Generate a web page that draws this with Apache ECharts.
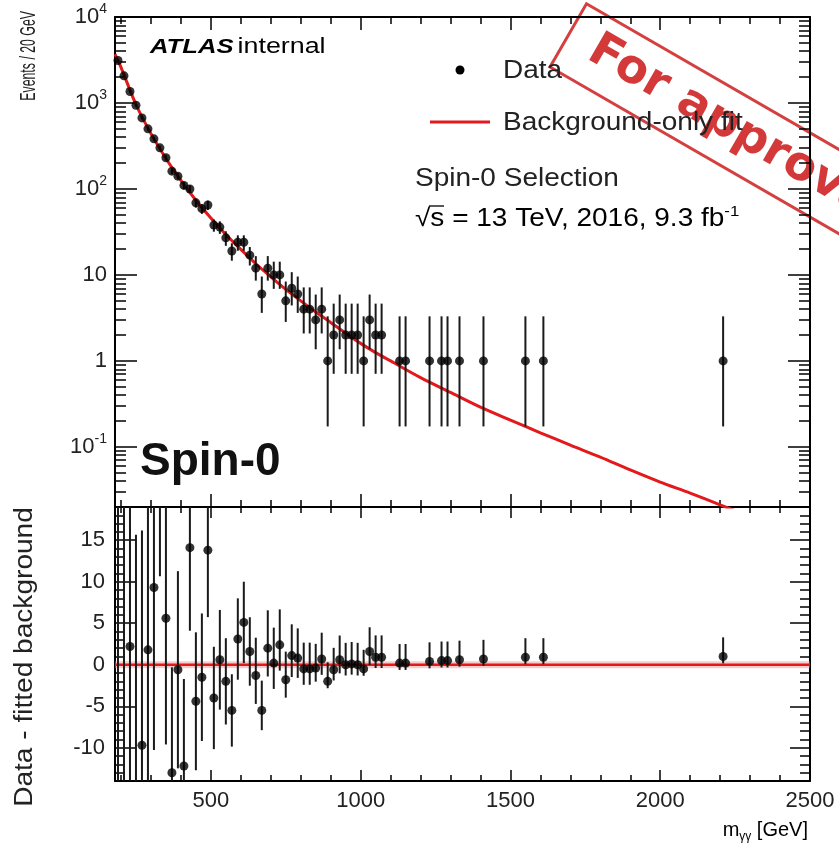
<!DOCTYPE html>
<html>
<head>
<meta charset="utf-8">
<script src="https://cdn.jsdelivr.net/npm/echarts@6/dist/echarts.min.js"></script>
<style>html,body{margin:0;padding:0;background:#fff}#c{width:839px;height:845px}</style>
</head>
<body>
<div id="c"></div>
<script>
// ---------------- data ----------------
const massBins = [190,210,230,250,270,290,310,330,350,370,390,410,430,450,470,490,510,530,550,570,590,610,630,650,670,690,710,730,750,770,790,810,830,850,870,890,910,930,950,970,990,1010,1030,1050,1070,1130,1150,1230,1270,1290,1330,1410,1550,1610,2210];
const counts = [3120,2070,1360,940,670,500,383,301,231,161,141,110,100,69,59,65,38,36,27,19,24,24,17,12,6,12,10,10,5,7,6,4,4,3,4,1,2,3,2,2,2,1,3,2,2,1,1,1,1,1,1,1,1,1,1];
const residuals = [-20,25,2.2,-15,-9.7,1.8,9.3,28,5.6,-13.0,-0.6,-12.2,14.1,-4.4,-1.5,13.8,-4.0,0.6,-2.0,-5.5,3.1,5.1,1.6,-1.3,-5.5,2.0,0.2,2.4,-1.8,1.1,0.8,-0.5,-0.5,-0.4,0.7,-2.0,-0.6,0.6,0.0,0.1,0.0,-0.5,1.6,0.9,0.9,0.2,0.2,0.4,0.5,0.5,0.6,0.7,0.9,0.9,1.0];
const fitMass = [180,200,250,300,350,400,450,500,550,600,650,700,750,800,850,900,950,1000,1050,1100,1200,1300,1400,1500,1600,1700,1800,1900,2000,2100,2200,2300,2500];
const fitValues = [3700,2600,960,440,226,126,74,46,29.5,19.8,13.5,9.5,6.8,5.0,3.7,2.8,2.1,1.6,1.25,1.0,0.64,0.43,0.29,0.205,0.146,0.105,0.076,0.054,0.039,0.029,0.0212,0.0155,0.0085];
// 68% Poisson (Garwood) interval for N = 1..12
const poissonLow  = [0.173,0.708,1.367,2.086,2.840,3.620,4.419,5.232,6.057,6.891,7.734,8.585];
const poissonHigh = [3.300,4.638,5.918,7.163,8.382,9.584,10.77,11.95,13.11,14.27,15.42,16.56];
// tick labels
const xTickValues = [500,1000,1500,2000,2500];
const xTickLabels = ['500','1000','1500','2000','2500'];
const yTopTickValues = [0.1,1,10,100,1000,10000];
const yTopTickLabels = [['10','-1'],['1',''],['10',''],['10','2'],['10','3'],['10','4']];
const yBotTickValues = [-10,-5,0,5,10,15];
const yBotTickLabels = ['-10','-5','0','5','10','15'];

// ---------------- helpers ----------------
const FONT = "'Liberation Sans', Arial, Helvetica, sans-serif";
const X_MIN = 180, X_MAX = 2500;
const TOP_MIN = 0.02, TOP_MAX = 10000;
const BOT_MIN = -14, BOT_MAX = 19;

const xMinor = [];
for (let v = 200; v <= 2400; v += 100) if (v % 500 !== 0) xMinor.push(v);
const yTopMinor = [];
for (let d = -2; d <= 3; d++) for (let k = 2; k <= 9; k++) {
  const v = +(k * Math.pow(10, d)).toPrecision(3);
  if (v >= TOP_MIN && v <= TOP_MAX) yTopMinor.push(v);
}
const yBotMinor = [];
for (let v = -14; v <= 19; v++) if (v % 5 !== 0) yBotMinor.push(v);

function errLo(n) { return n <= 12 ? poissonLow[n - 1] : n - Math.sqrt(n); }
function errHi(n) { return n <= 12 ? poissonHigh[n - 1] : n + Math.sqrt(n); }

const topPoints = massBins.map((m, i) => [m, counts[i]]);
const topErr = massBins.map((m, i) => [m, errLo(counts[i]), errHi(counts[i])]);
const botPoints = massBins.map((m, i) => [m, residuals[i]]);
const botErr = massBins.map((m, i) => [m, residuals[i] - (counts[i] - errLo(counts[i])), residuals[i] + (errHi(counts[i]) - counts[i])]);
const fitLine = fitMass.map((m, i) => [m, fitValues[i]]);

function mkX(grid, pos, ticks, len, withLabels, lineShow) {
  return {
    type: 'value', gridIndex: grid, position: pos, min: X_MIN, max: X_MAX,
    axisLine: { show: lineShow, onZero: false, lineStyle: { color: '#000', width: 2 } },
    axisTick: { show: true, inside: true, length: len, customValues: ticks, lineStyle: { color: '#000', width: 1.5 } },
    axisLabel: withLabels ? {
      show: true, customValues: ticks, margin: 9, color: '#222', fontFamily: FONT, fontSize: 22,
      formatter: v => xTickLabels[xTickValues.indexOf(Math.round(v))] || ''
    } : { show: false },
    splitLine: { show: false }
  };
}
function mkYTop(pos, ticks, len, withLabels, lineShow) {
  return {
    type: 'log', logBase: 10, gridIndex: 0, position: pos, min: TOP_MIN, max: TOP_MAX,
    axisLine: { show: lineShow, lineStyle: { color: '#000', width: 2 } },
    axisTick: { show: true, inside: true, length: len, customValues: ticks, lineStyle: { color: '#000', width: 1.5 } },
    axisLabel: withLabels ? {
      show: true, customValues: ticks, margin: 8,
      formatter: v => {
        const idx = Math.round(Math.log10(v)) + 1;
        const lab = yTopTickLabels[idx];
        if (!lab) return '';
        return lab[1] ? '{b|' + lab[0] + '}{s|' + lab[1] + '}' : '{b|' + lab[0] + '}';
      },
      rich: {
        b: { fontFamily: FONT, fontSize: 22, color: '#222', lineHeight: 30 },
        s: { fontFamily: FONT, fontSize: 14, color: '#222', lineHeight: 16, verticalAlign: 'top' }
      }
    } : { show: false },
    splitLine: { show: false }
  };
}
function mkYBot(pos, ticks, len, withLabels, lineShow) {
  return {
    type: 'value', gridIndex: 1, position: pos, min: BOT_MIN, max: BOT_MAX,
    axisLine: { show: lineShow, lineStyle: { color: '#000', width: 2 } },
    axisTick: { show: true, inside: true, length: len, customValues: ticks, lineStyle: { color: '#000', width: 1.5 } },
    axisLabel: withLabels ? {
      show: true, customValues: ticks, margin: 10, color: '#222', fontFamily: FONT, fontSize: 22,
      formatter: v => yBotTickLabels[yBotTickValues.indexOf(Math.round(v))] || ''
    } : { show: false },
    splitLine: { show: false }
  };
}

function errRender(params, api) {
  const x = api.value(0), lo = api.value(1), hi = api.value(2);
  const p1 = api.coord([x, lo]);
  const p2 = api.coord([x, hi]);
  return {
    type: 'line',
    shape: { x1: p1[0], y1: p1[1], x2: p2[0], y2: p2[1] },
    style: { stroke: '#1a1a1a', lineWidth: 2 }
  };
}

const chart = echarts.init(document.getElementById('c'), null, { renderer: 'canvas' });
const DEG = Math.PI / 180;

const option = {
  animation: false,
  backgroundColor: '#fff',
  grid: [
    { left: 115, right: 29, top: 17, height: 490 },
    { left: 115, right: 29, top: 507, height: 274 }
  ],
  xAxis: [
    mkX(0, 'bottom', xTickValues, 13, false, true),
    mkX(0, 'bottom', xMinor, 7, false, false),
    mkX(0, 'top', xTickValues, 13, false, true),
    mkX(0, 'top', xMinor, 7, false, false),
    mkX(1, 'bottom', xTickValues, 11, true, true),
    mkX(1, 'bottom', xMinor, 6, false, false),
    mkX(1, 'top', xTickValues, 11, false, true),
    mkX(1, 'top', xMinor, 6, false, false)
  ],
  yAxis: [
    mkYTop('left', yTopTickValues, 22, true, true),
    mkYTop('left', yTopMinor, 11, false, false),
    mkYTop('right', yTopTickValues, 22, false, true),
    mkYTop('right', yTopMinor, 11, false, false),
    mkYBot('left', yBotTickValues, 20, true, true),
    mkYBot('left', yBotMinor, 10, false, false),
    mkYBot('right', yBotTickValues, 20, false, true),
    mkYBot('right', yBotMinor, 10, false, false)
  ],
  series: [
    {
      name: 'Background-only fit', type: 'line', xAxisIndex: 0, yAxisIndex: 0,
      data: fitLine, smooth: 0.3, showSymbol: false, clip: true, z: 3,
      lineStyle: { color: '#e3191c', width: 3 }
    },
    {
      name: 'Data errors', type: 'custom', xAxisIndex: 0, yAxisIndex: 0,
      data: topErr, renderItem: errRender, clip: true, z: 4,
      encode: { x: 0, y: [1, 2] }
    },
    {
      name: 'Data', type: 'scatter', xAxisIndex: 0, yAxisIndex: 0,
      data: topPoints, symbol: 'circle', symbolSize: 9, clip: true, z: 5,
      itemStyle: { color: '#000' }
    },
    {
      name: 'zero band', type: 'line', xAxisIndex: 4, yAxisIndex: 4,
      data: [[X_MIN, 0], [X_MAX, 0]], showSymbol: false, z: 2,
      lineStyle: { color: '#f08080', width: 7, opacity: 0.4 }
    },
    {
      name: 'zero', type: 'line', xAxisIndex: 4, yAxisIndex: 4,
      data: [[X_MIN, 0], [X_MAX, 0]], showSymbol: false, z: 3,
      lineStyle: { color: '#e3191c', width: 2.5 }
    },
    {
      name: 'Residual errors', type: 'custom', xAxisIndex: 4, yAxisIndex: 4,
      data: botErr, renderItem: errRender, clip: true, z: 4,
      encode: { x: 0, y: [1, 2] }
    },
    {
      name: 'Residuals', type: 'scatter', xAxisIndex: 4, yAxisIndex: 4,
      data: botPoints, symbol: 'circle', symbolSize: 9, clip: true, z: 5,
      itemStyle: { color: '#000' }
    }
  ],
  graphic: [
    // y axis titles
    { type: 'text', x: 29, y: 11, rotation: Math.PI / 2, scaleX: 0.56, z: 10,
      style: { text: 'Events / 20 GeV', fontFamily: FONT, fontSize: 22, fill: '#222', textAlign: 'right', textVerticalAlign: 'middle' } },
    { type: 'text', x: 25, y: 657, rotation: Math.PI / 2, scaleX: 1.08, z: 10,
      style: { text: 'Data - fitted background', fontFamily: FONT, fontSize: 26, fill: '#222', textAlign: 'center', textVerticalAlign: 'middle' } },
    // x axis title
    { type: 'text', x: 808, y: 830, z: 10,
      style: { text: '{t|m}{s|γγ}{t| [GeV]}', textAlign: 'right', textVerticalAlign: 'middle',
        rich: { t: { fontFamily: FONT, fontSize: 20, color: '#222', lineHeight: 26 },
                s: { fontFamily: FONT, fontSize: 12, color: '#222', lineHeight: 12, verticalAlign: 'bottom' } } } },
    // ATLAS internal
    { type: 'text', x: 150, y: 47, scaleX: 1.22, z: 10,
      style: { text: '{a|ATLAS} {b|internal}', textAlign: 'left', textVerticalAlign: 'middle',
        rich: { a: { fontFamily: FONT, fontSize: 21, fontWeight: 'bold', fontStyle: 'italic', color: '#111' },
                b: { fontFamily: FONT, fontSize: 22, color: '#222' } } } },
    // legend
    { type: 'circle', shape: { cx: 460, cy: 70, r: 4.5 }, style: { fill: '#000' }, z: 10 },
    { type: 'text', x: 503, y: 71, scaleX: 1.12, z: 10,
      style: { text: 'Data', fontFamily: FONT, fontSize: 25, fill: '#222', textAlign: 'left', textVerticalAlign: 'middle' } },
    { type: 'line', shape: { x1: 430, y1: 122, x2: 490, y2: 122 }, style: { stroke: '#e3191c', lineWidth: 3 }, z: 10 },
    { type: 'text', x: 503, y: 123, scaleX: 1.12, z: 10,
      style: { text: 'Background-only fit', fontFamily: FONT, fontSize: 25, fill: '#222', textAlign: 'left', textVerticalAlign: 'middle' } },
    { type: 'text', x: 415, y: 179, scaleX: 1.12, z: 10,
      style: { text: 'Spin-0 Selection', fontFamily: FONT, fontSize: 25, fill: '#222', textAlign: 'left', textVerticalAlign: 'middle' } },
    { type: 'text', x: 415, y: 219, scaleX: 1.12, z: 10,
      style: { text: '{t|√s = 13 TeV, 2016, 9.3 fb}{s|-1}', textAlign: 'left', textVerticalAlign: 'middle',
        rich: { t: { fontFamily: FONT, fontSize: 25, color: '#222', lineHeight: 30 },
                s: { fontFamily: FONT, fontSize: 15, color: '#222', lineHeight: 16, verticalAlign: 'top' } } } },
    { type: 'line', shape: { x1: 429, y1: 206, x2: 444, y2: 206 }, style: { stroke: '#222', lineWidth: 1.5 }, z: 10 },
    // Spin-0 big label
    { type: 'text', x: 140, y: 462, z: 10,
      style: { text: 'Spin-0', fontFamily: FONT, fontSize: 46, fontWeight: 'bold', fill: '#111', textAlign: 'left', textVerticalAlign: 'middle' } },
    // "For approval" stamp
    { type: 'group', x: 550, y: 67, rotation: -30 * DEG, z: 20,
      children: [
        { type: 'rect', shape: { x: 0, y: -73, width: 420, height: 73 },
          style: { fill: 'none', stroke: 'rgba(205,30,30,0.85)', lineWidth: 3 } },
        { type: 'text', x: 26, y: -38,
          style: { text: 'For approval', fontFamily: "'DejaVu Sans', sans-serif", fontSize: 47, fontWeight: 'bold',
            fill: 'rgba(205,30,30,0.88)', textAlign: 'left', textVerticalAlign: 'middle' } }
      ] }
  ]
};
chart.setOption(option);
</script>
</body>
</html>
